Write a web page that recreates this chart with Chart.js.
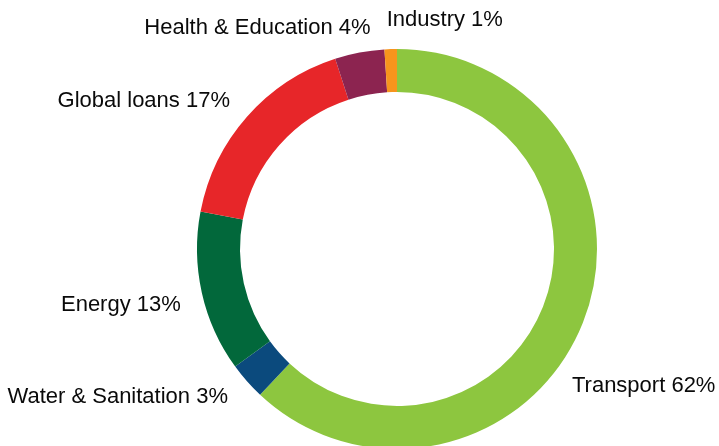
<!DOCTYPE html>
<html>
<head>
<meta charset="utf-8">
<script src="https://cdn.jsdelivr.net/npm/chart.js@4"></script>
<style>
  html, body { margin: 0; padding: 0; background: #fff; overflow: hidden; }
  #wrap { width: 719px; height: 460px; }
</style>
</head>
<body>
<div id="wrap"><canvas id="donut" width="719" height="460"></canvas></div>
<script>
const sectors = ['Transport', 'Water & Sanitation', 'Energy', 'Global loans', 'Health & Education', 'Industry'];
const shares = [62, 3, 13, 17, 4, 1];
const sectorColors = ['#8dc63f', '#0b4a7d', '#02683b', '#e72629', '#8c2450', '#f7941d'];

// where each label sits relative to the outer edge of its slice, at mid-angle
const labelPlacement = [
    { dx: -11, dy: 63, align: 'left' },
    { dx: -19, dy: 16, align: 'right' },
    { dx: -21, dy: 12, align: 'right' },
    { dx: -17, dy: -16, align: 'right' },
    { dx: 11, dy: -25, align: 'right' },
    { dx: -4, dy: -29, align: 'left' }
];

const outsideLabels = {
    id: 'outsideLabels',
    afterDatasetsDraw(chart) {
        const ctx = chart.ctx;
        const meta = chart.getDatasetMeta(0);
        ctx.save();
        ctx.font = '22px "Liberation Sans", Arial, sans-serif';
        ctx.fillStyle = '#0a0a0a';
        ctx.textBaseline = 'middle';
        meta.data.forEach(function(arc, i) {
            const mid = (arc.startAngle + arc.endAngle) / 2;
            const x = arc.x + Math.cos(mid) * arc.outerRadius + labelPlacement[i].dx;
            const y = arc.y + Math.sin(mid) * arc.outerRadius + labelPlacement[i].dy;
            ctx.textAlign = labelPlacement[i].align;
            ctx.fillText(sectors[i] + ' ' + shares[i] + '%', x, y);
        });
        ctx.restore();
    }
};

new Chart(document.getElementById('donut'), {
    type: 'doughnut',
    data: {
        labels: sectors,
        datasets: [{
            data: shares,
            backgroundColor: sectorColors,
            borderWidth: 0
        }]
    },
    options: {
        responsive: false,
        animation: false,
        cutout: '78.5%',
        layout: { padding: { left: 197, right: 122, top: 49, bottom: 11 } },
        plugins: {
            legend: { display: false },
            tooltip: { enabled: false }
        }
    },
    plugins: [outsideLabels]
});
</script>
</body>
</html>
